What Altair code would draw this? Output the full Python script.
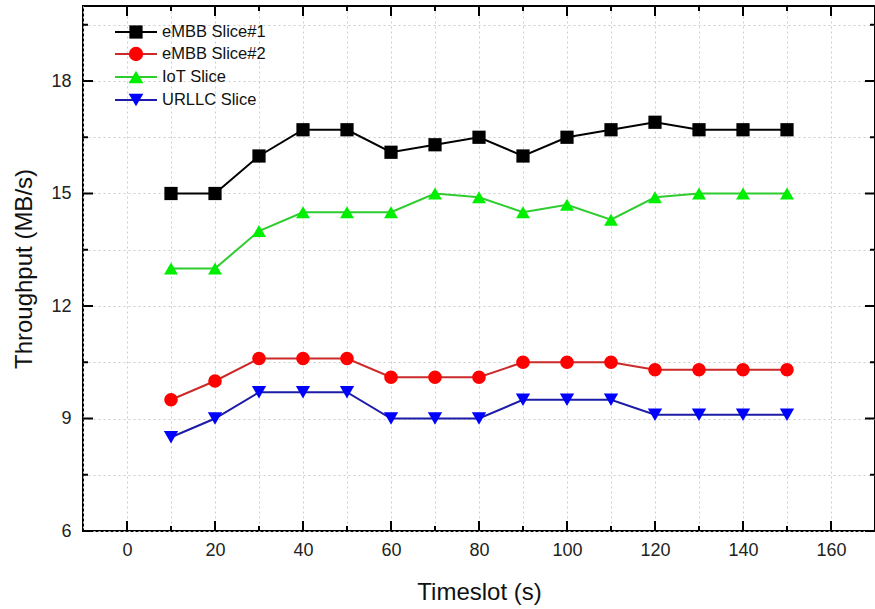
import altair as alt
import pandas as pd

# ---------------- data ----------------
timeslots = [10, 20, 30, 40, 50, 60, 70, 80, 90, 100, 110, 120, 130, 140, 150]
embb1 = [15.0, 15.0, 16.0, 16.7, 16.7, 16.1, 16.3, 16.5, 16.0, 16.5, 16.7, 16.9, 16.7, 16.7, 16.7]
embb2 = [9.5, 10.0, 10.6, 10.6, 10.6, 10.1, 10.1, 10.1, 10.5, 10.5, 10.5, 10.3, 10.3, 10.3, 10.3]
iot = [13.0, 13.0, 14.0, 14.5, 14.5, 14.5, 15.0, 14.9, 14.5, 14.7, 14.3, 14.9, 15.0, 15.0, 15.0]
urllc = [8.5, 9.0, 9.7, 9.7, 9.7, 9.0, 9.0, 9.0, 9.5, 9.5, 9.5, 9.1, 9.1, 9.1, 9.1]

series_names = ["eMBB Slice#1", "eMBB Slice#2", "IoT Slice", "URLLC Slice"]
series_values = [embb1, embb2, iot, urllc]

line_colors = ["#000000", "#cc2a2a", "#2ecc2e", "#1c1ca8"]
marker_colors = ["#000000", "#ff0000", "#00ee00", "#0000ff"]
marker_shapes = ["square", "circle", "triangle-up", "triangle-down"]
marker_sizes = [175, 205, 215, 215]

x_grid = list(range(-10, 171, 10))
x_major = list(range(0, 161, 20))
x_minor = list(range(10, 151, 20))
y_grid = [6 + 1.5 * i for i in range(10)]
y_major = [6, 9, 12, 15, 18]
y_minor = [7.5, 10.5, 13.5, 16.5, 19.5]

# ---------------- layout ----------------
W, H = 792, 525
FONT = "Liberation Sans"

rows = []
for name, vals in zip(series_names, series_values):
    for t, v in zip(timeslots, vals):
        rows.append({"series": name, "t": t, "y": v})
df = pd.DataFrame(rows)

x_scale = alt.Scale(domain=[-10, 170], nice=False, zero=False)
y_scale = alt.Scale(domain=[6, 20], nice=False, zero=False)

x_axis = alt.Axis(
    values=x_grid,
    labelExpr="(datum.value % 20 == 0 && datum.value >= 0 && datum.value <= 160) ? datum.label : ''",
    title="Timeslot (s)",
    grid=True, gridDash=[2, 3], gridColor="#cccccc", gridWidth=1,
    ticks=False, tickSize=0, domain=False,
    labelFont=FONT, labelFontSize=18, labelColor="#222222", labelPadding=10,
    titleFont=FONT, titleFontSize=24, titleFontWeight="normal", titleColor="#111111",
    titlePadding=21,
)
y_axis = alt.Axis(
    values=y_grid,
    labelExpr="(datum.value % 3 == 0) ? datum.label : ''",
    title="Throughput (MB/s)",
    grid=True, gridDash=[2, 3], gridColor="#cccccc", gridWidth=1,
    ticks=False, tickSize=0, domain=False,
    labelFont=FONT, labelFontSize=18, labelColor="#222222", labelPadding=12,
    titleFont=FONT, titleFontSize=24, titleFontWeight="normal", titleColor="#111111",
    titlePadding=14,
)


def X():
    return alt.X("t:Q", scale=x_scale, axis=x_axis)


def Y():
    return alt.Y("y:Q", scale=y_scale, axis=y_axis)


lines = alt.Chart(df).mark_line(strokeWidth=2).encode(
    x=X(), y=Y(),
    color=alt.Color("series:N", scale=alt.Scale(domain=series_names, range=line_colors), legend=None),
    detail="series:N",
)

points = alt.Chart(df).mark_point(filled=True, opacity=1, strokeWidth=0).encode(
    x=X(), y=Y(),
    fill=alt.Fill("series:N", scale=alt.Scale(domain=series_names, range=marker_colors), legend=None),
    shape=alt.Shape("series:N", scale=alt.Scale(domain=series_names, range=marker_shapes), legend=None),
    size=alt.Size("series:N", scale=alt.Scale(domain=series_names, range=marker_sizes), legend=None),
)


def xticks(vals, length):
    d = pd.DataFrame({"t": vals})
    bottom = alt.Chart(d).mark_rule(color="black", strokeWidth=2).encode(
        x=X(), y=alt.value(H), y2=alt.value(H - length))
    top = alt.Chart(d).mark_rule(color="black", strokeWidth=2).encode(
        x=X(), y=alt.value(0), y2=alt.value(length))
    return [bottom, top]


def yticks(vals, length):
    d = pd.DataFrame({"y": vals})
    left = alt.Chart(d).mark_rule(color="black", strokeWidth=2).encode(
        y=Y(), x=alt.value(0), x2=alt.value(length))
    right = alt.Chart(d).mark_rule(color="black", strokeWidth=2).encode(
        y=Y(), x=alt.value(W), x2=alt.value(W - length))
    return [left, right]


tick_layers = xticks(x_major, 10) + xticks(x_minor, 5) + yticks(y_major, 10) + yticks(y_minor, 5)

# manual legend (line through marker, Origin style)
legend_rows_y = [26, 48, 71, 94]
legend_layers = []
for i, name in enumerate(series_names):
    ld = pd.DataFrame({"series": [name]})
    ry = legend_rows_y[i]
    legend_layers.append(
        alt.Chart(ld).mark_rule(color=line_colors[i], strokeWidth=2).encode(
            x=alt.value(32), x2=alt.value(74), y=alt.value(ry)))
    legend_layers.append(
        alt.Chart(ld).mark_point(shape=marker_shapes[i], filled=True, opacity=1, strokeWidth=0,
                                 color=marker_colors[i], size=marker_sizes[i]).encode(
            x=alt.value(53), y=alt.value(ry)))
    legend_layers.append(
        alt.Chart(ld).mark_text(align="left", baseline="middle", font=FONT, fontSize=16.5,
                                color="#111111").encode(
            text="series:N", x=alt.value(79), y=alt.value(ry)))

chart = alt.layer(lines, points, *tick_layers, *legend_layers).properties(
    width=W, height=H,
    autosize=alt.AutoSizeParams(type="none"),
    padding={"left": 83, "top": 6, "right": 0, "bottom": 78},
    background="white",
).configure_view(stroke="black", strokeWidth=2)

chart.save("out.html", embed_options={"renderer": "svg", "actions": False})
